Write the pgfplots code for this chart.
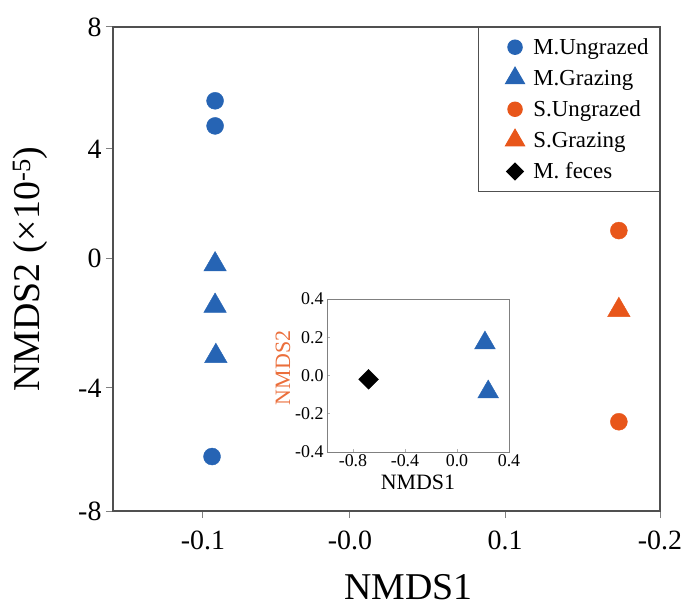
\documentclass[border=0pt]{standalone}
\usepackage{fontspec}
\setmainfont{Liberation Serif}
\usepackage{pgfplots}
\pgfplotsset{compat=1.18}
\definecolor{mblue}{RGB}{38,100,180}
\definecolor{sorange}{RGB}{232,86,26}
\definecolor{axgray}{RGB}{80,80,80}
\pgfplotsset{
  myleg/.style={legend image code/.code={%
    \path[draw=none, fill=none] (0bp,0bp) -- (52bp,0bp);
    \draw[##1] plot coordinates {(34bp,0bp)};}},
}

\begin{document}
\begin{tikzpicture}
\useasboundingbox (-113bp,-98bp) rectangle (571bp,511bp);
% main NMDS plot (axis positions follow the printed, uneven ticks)
\begin{axis}[
  at={(0bp,0bp)}, anchor=south west,
  width=547bp, height=484bp, scale only axis,
  xmin=0.41, xmax=4, ymin=-8, ymax=8,
  xtick={1,1.965,2.983,4}, xticklabels={-0.1,-0.0,0.1,-0.2},
  ytick={-8,-3.93,0.36,3.97,8}, yticklabels={-8,-4,0,4,8},
  tick align=outside, tickpos=left, major tick length=7bp,
  axis line style={axgray, line width=1.6bp},
  every tick/.style={gray, line width=1bp},
  ticklabel style={font=\fontsize{28}{30}\selectfont},
  xticklabel style={yshift=-9bp},
  yticklabel style={xshift=-1bp},
  xlabel={NMDS1}, ylabel={NMDS2 (×10\textsuperscript{-5})},
  label style={font=\fontsize{38}{40}\selectfont},
  xlabel style={at={(axis description cs:0.54,-0.158)}, anchor=center},
  ylabel style={at={(axis description cs:-0.152,0.5)}, anchor=center},
  legend style={at={(1,1)}, anchor=north east, draw=axgray, line width=1bp,
    font=\fontsize{23}{25}\selectfont, row sep=8bp, inner xsep=8bp, inner ysep=8bp,
    nodes={inner sep=3bp}},
  legend cell align=left,
  legend image post style={scale=0.85},
]
\addplot[only marks, mark=*, mblue, mark size=8.5bp, myleg]
  coordinates {(1.08,5.56) (1.08,4.73) (1.06,-6.20)};
\addlegendentry{M.Ungrazed}
\addplot[only marks, mark=triangle*, mblue, mark size=13bp, myleg]
  coordinates {(1.08,0.15) (1.08,-1.22) (1.085,-2.88)};
\addlegendentry{M.Grazing}
\addplot[only marks, mark=*, sorange, mark size=8.5bp, myleg]
  coordinates {(3.73,1.27) (3.73,-5.05)};
\addlegendentry{S.Ungrazed}
\addplot[only marks, mark=triangle*, sorange, mark size=13bp, myleg]
  coordinates {(3.73,-1.36)};
\addlegendentry{S.Grazing}
\addlegendimage{only marks, mark=square*, black, mark size=7bp, mark options={rotate=45}, myleg}
\addlegendentry{M. feces}
\end{axis}

% inset
\begin{axis}[
  at={(214bp,59bp)}, anchor=south west,
  width=182bp, height=153bp, scale only axis,
  axis background/.style={fill=white},
  xmin=-1, xmax=0.4, ymin=-0.4, ymax=0.4,
  xtick={-0.8,-0.4,0,0.4}, xticklabels={-0.8,-0.4,0.0,0.4},
  ytick={-0.4,-0.2,0,0.2,0.4}, yticklabels={-0.4,-0.2,0.0,0.2,0.4},
  tick align=inside, major tick length=3bp, tickpos=left,
  axis line style={gray, line width=1bp},
  every tick/.style={gray!60, line width=0.6bp},
  ticklabel style={font=\fontsize{18}{20}\selectfont},
  xticklabel style={yshift=1bp},
  xlabel={NMDS1}, ylabel={NMDS2},
  label style={font=\fontsize{22}{24}\selectfont},
  xlabel style={at={(axis description cs:0.5,-0.2)}, anchor=center},
  ylabel style={at={(axis description cs:-0.242,0.55)}, anchor=center, sorange!85!white},
]
\addplot[only marks, mark=square*, black, mark size=7bp, mark options={rotate=45}]
  coordinates {(-0.68,-0.02)};
\addplot[only marks, mark=triangle*, mblue, mark size=12bp]
  coordinates {(0.215,0.17) (0.24,-0.086)};
\end{axis}
\end{tikzpicture}
\end{document}
